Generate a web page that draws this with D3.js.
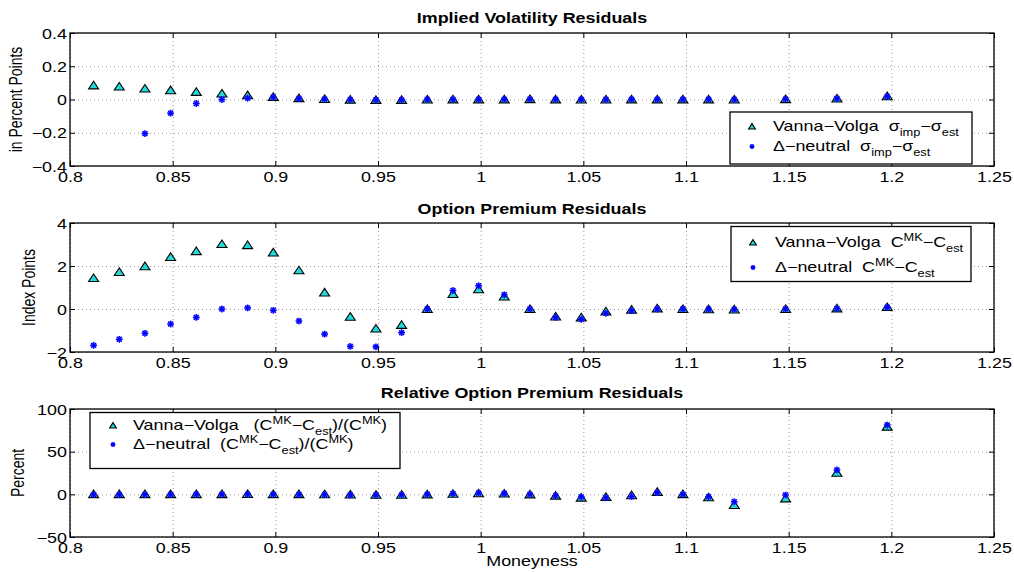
<!DOCTYPE html>
<html><head><meta charset="utf-8">
<script src="https://cdn.jsdelivr.net/npm/d3@7"></script>
<style>body{margin:0;background:#fff} text{font-family:"Liberation Sans",Arial,Helvetica,sans-serif;fill:#000}</style>
</head><body><svg id="c" width="1014" height="572"></svg>
<script>
// ---------- data ----------
const moneyness = [0.8115, 0.824, 0.8365, 0.849, 0.8615, 0.874, 0.8865, 0.899, 0.9115, 0.924,
  0.9365, 0.949, 0.9615, 0.974, 0.9865, 0.999, 1.0115, 1.024, 1.0365, 1.049,
  1.061, 1.0735, 1.086, 1.0985, 1.111, 1.1235, 1.1485, 1.1735, 1.198];

const ivVannaVolga = [0.085, 0.078, 0.066, 0.056, 0.046, 0.036, 0.026, 0.016, 0.008, 0.003,
  -0.001, -0.002, -0.002, 0.0, 0.001, 0.001, 0.001, 0.002, 0.001, 0.0,
  0.0, 0.001, 0.001, 0.001, 0.001, 0.0, 0.002, 0.006, 0.02];
const ivDeltaNeutral = [null, null, -0.205, -0.082, -0.024, 0.0, 0.008, 0.014, 0.006, 0.002,
  -0.001, -0.002, -0.002, 0.0, 0.001, 0.001, 0.001, 0.002, 0.001, 0.0,
  0.0, 0.001, 0.001, 0.001, 0.001, 0.0, 0.002, 0.006, 0.018];

const premVannaVolga = [1.44, 1.72, 1.99, 2.42, 2.69, 3.02, 2.97, 2.63, 1.80, 0.77,
  -0.36, -0.91, -0.74, 0.0, 0.70, 0.92, 0.58, 0.0, -0.35, -0.39,
  -0.11, -0.03, 0.03, 0.0, -0.01, -0.02, 0.0, 0.03, 0.09];
const premDeltaNeutral = [-1.69, -1.41, -1.13, -0.70, -0.39, 0.0, 0.05, -0.06, -0.56, -1.17,
  -1.74, -1.76, -1.10, 0.0, 0.86, 1.08, 0.66, 0.0, -0.40, -0.48,
  -0.20, -0.08, 0.0, 0.0, -0.01, -0.02, 0.0, 0.02, 0.08];

const relVannaVolga = [0.3, 0.3, 0.2, 0.2, 0.3, 0.3, 0.4, 0.3, 0.2, 0.1,
  -0.2, -0.5, -0.5, 0.0, 0.6, 1.2, 0.9, 0.0, -1.5, -3.8,
  -3.0, -1.0, 2.8, 0.2, -3.5, -12.5, -4.7, 25.3, 79.3];
const relDeltaNeutral = [-0.3, -0.3, -0.3, -0.2, -0.1, 0.0, 0.0, 0.0, -0.2, -0.4,
  -0.8, -0.9, -0.6, 0.0, 0.8, 1.5, 1.0, 0.0, -1.6, -3.0,
  -4.0, -2.5, 2.0, 0.0, -2.8, -8.7, -0.8, 28.5, 81.2];

const xTicks = [0.8, 0.85, 0.9, 0.95, 1, 1.05, 1.1, 1.15, 1.2, 1.25];
const xTickLabels = ["0.8", "0.85", "0.9", "0.95", "1", "1.05", "1.1", "1.15", "1.2", "1.25"];
const ivTicks = [-0.4, -0.2, 0, 0.2, 0.4];
const ivTickLabels = ["\u22120.4", "\u22120.2", "0", "0.2", "0.4"];
const premTicks = [-2, 0, 2, 4];
const premTickLabels = ["\u22122", "0", "2", "4"];
const relTicks = [-50, 0, 50, 100];
const relTickLabels = ["\u221250", "0", "50", "100"];

const titles = ["Implied Volatility Residuals", "Option Premium Residuals", "Relative Option Premium Residuals"];
const yLabels = ["in Percent Points", "Index Points", "Percent"];
const xLabel = "Moneyness";

// legend rows: segments [text, "sub"|"sup"|null]
const legend1 = [
  [["Vanna\u2212Volga  \u03C3"], ["imp", "sub"], ["\u2212\u03C3"], ["est", "sub"]],
  [["\u0394\u2212neutral  \u03C3"], ["imp", "sub"], ["\u2212\u03C3"], ["est", "sub"]]
];
const legend2 = [
  [["Vanna\u2212Volga  C"], ["MK", "sup"], ["\u2212C"], ["est", "sub"]],
  [["\u0394\u2212neutral  C"], ["MK", "sup"], ["\u2212C"], ["est", "sub"]]
];
const legend3 = [
  [["Vanna\u2212Volga   (C"], ["MK", "sup"], ["\u2212C"], ["est", "sub"], [")/(C"], ["MK", "sup"], [")"]],
  [["\u0394\u2212neutral  (C"], ["MK", "sup"], ["\u2212C"], ["est", "sub"], [")/(C"], ["MK", "sup"], [")"]]
];

// ---------- drawing ----------
const SX = 1.28; // horizontal text stretch of the original
const FS = 14;
const W = 1014, H = 572;
const left = 70, right = 994;
const svg = d3.select("#c");
svg.append("rect").attr("width", W).attr("height", H).attr("fill", "#fff");

const x = d3.scaleLinear().domain([0.8, 1.25]).range([left, right]);
const cyan = "#22dada";
const blue = "#0000ff";

function triPath(hw, ht, hb) { return `M0,${-ht}L${hw},${hb}L${-hw},${hb}Z`; }

function drawTri(g, cx, cy, small) {
  const p = small ? triPath(3.4, 2.9, 2.5) : triPath(5, 4.1, 3.5);
  g.append("path").attr("d", p).attr("transform", `translate(${cx},${cy})`)
    .attr("fill", cyan).attr("stroke", "#000").attr("stroke-width", 1.1).attr("stroke-linejoin", "miter");
}
function drawStar(g, cx, cy, small) {
  const r = small ? 2.4 : 3.4;
  const d = r * 0.72;
  const s = g.append("g").attr("transform", `translate(${cx},${cy})`);
  s.append("circle").attr("r", r * 0.9).attr("fill", "#6a6aff").attr("opacity", 0.6);
  const segs = [[-r, 0, r, 0], [0, -r, 0, r], [-d, -d, d, d], [-d, d, d, -d]];
  segs.forEach(q => s.append("line").attr("x1", q[0]).attr("y1", q[1]).attr("x2", q[2]).attr("y2", q[3])
    .attr("stroke", blue).attr("stroke-width", 1.4));
}

function richText(g, tx, ty, segs) {
  const t = g.append("text").attr("transform", `translate(${tx},${ty}) scale(${SX},1)`)
    .attr("font-size", FS).style("white-space", "pre");
  let shift = 0;
  segs.forEach(s => {
    const kind = s[1] || null;
    const target = kind === "sub" ? 5 : kind === "sup" ? -6 : 0;
    t.append("tspan").attr("dy", target - shift).attr("font-size", kind ? 10 : FS).text(s[0]);
    shift = target;
  });
  return t;
}

const panels = [
  { top: 33, bottom: 166, domain: [-0.4, 0.4], ticks: ivTicks, labels: ivTickLabels,
    vv: ivVannaVolga, dn: ivDeltaNeutral, title: titles[0], titleY: 22.7, ylab: yLabels[0], ylabX: 18,
    legend: { x: 730, y: 112, w: 242, h: 52, mx: 752, tx: 773, rows: legend1, ys: [131, 151] } },
  { top: 223, bottom: 352, domain: [-2, 4], ticks: premTicks, labels: premTickLabels,
    vv: premVannaVolga, dn: premDeltaNeutral, title: titles[1], titleY: 213.5, ylab: yLabels[1], ylabX: 31,
    legend: { x: 731, y: 226.5, w: 240, h: 55, mx: 753, tx: 775, rows: legend2, ys: [247, 272] } },
  { top: 409, bottom: 537, domain: [-50, 100], ticks: relTicks, labels: relTickLabels,
    vv: relVannaVolga, dn: relDeltaNeutral, title: titles[2], titleY: 398.3, ylab: yLabels[2], ylabX: 20,
    legend: { x: 90, y: 412.5, w: 310, h: 56, mx: 113, tx: 133, rows: legend3, ys: [430, 449] } }
];

panels.forEach(p => {
  const y = d3.scaleLinear().domain(p.domain).range([p.bottom, p.top]);
  const g = svg.append("g");
  const h = p.bottom - p.top, w = right - left;

  // grid
  const gridStyle = s => {
    s.select(".domain").remove();
    s.selectAll("line").attr("stroke", "#8c8c8c").attr("stroke-width", 0.9).attr("stroke-dasharray", "1,3");
  };
  g.append("g").attr("transform", `translate(0,${p.bottom})`)
    .call(d3.axisBottom(x).tickValues(xTicks).tickSize(-h).tickFormat("")).call(gridStyle);
  g.append("g").attr("transform", `translate(${left},0)`)
    .call(d3.axisLeft(y).tickValues(p.ticks).tickSize(-w).tickFormat("")).call(gridStyle);

  // data
  const clip = "clip" + p.top;
  svg.append("clipPath").attr("id", clip).append("rect").attr("x", left).attr("y", p.top).attr("width", w).attr("height", h);
  const dg = g.append("g").attr("clip-path", `url(#${clip})`);
  moneyness.forEach((m, i) => { if (p.vv[i] != null) drawTri(dg, x(m), y(p.vv[i]), false); });
  moneyness.forEach((m, i) => { if (p.dn[i] != null) drawStar(dg, x(m), y(p.dn[i]), false); });

  // box
  g.append("rect").attr("x", left).attr("y", p.top).attr("width", w).attr("height", h)
    .attr("fill", "none").attr("stroke", "#000").attr("stroke-width", 1.3);

  const tickStyle = s => {
    s.select(".domain").remove();
    s.selectAll("line").attr("stroke", "#000").attr("stroke-width", 1);
  };
  // bottom axis with labels
  g.append("g").attr("transform", `translate(0,${p.bottom})`)
    .call(d3.axisBottom(x).tickValues(xTicks).tickSizeInner(-5).tickSizeOuter(0)
      .tickFormat((d, i) => xTickLabels[i]))
    .call(tickStyle)
    .call(s => s.selectAll("text").attr("y", 16).attr("dy", null).attr("font-size", FS)
      .attr("font-family", null).attr("fill", "#000").attr("transform", `scale(${SX},1)`));
  // top axis ticks
  g.append("g").attr("transform", `translate(0,${p.top})`)
    .call(d3.axisTop(x).tickValues(xTicks).tickSizeInner(-5).tickSizeOuter(0).tickFormat(""))
    .call(tickStyle);
  // left axis with labels
  g.append("g").attr("transform", `translate(${left},0)`)
    .call(d3.axisLeft(y).tickValues(p.ticks).tickSizeInner(-5).tickSizeOuter(0)
      .tickFormat((d, i) => p.labels[i]))
    .call(tickStyle)
    .call(s => s.selectAll("text").attr("x", -3 / SX).attr("dy", "0.36em").attr("font-size", FS)
      .attr("font-family", null).attr("fill", "#000").attr("transform", `scale(${SX},1)`));
  // right axis ticks
  g.append("g").attr("transform", `translate(${right},0)`)
    .call(d3.axisRight(y).tickValues(p.ticks).tickSizeInner(-5).tickSizeOuter(0).tickFormat(""))
    .call(tickStyle);

  // title
  g.append("text").attr("transform", `translate(${(left + right) / 2},${p.titleY}) scale(${SX},1)`)
    .attr("text-anchor", "middle").attr("font-weight", "bold").attr("font-size", FS).text(p.title);
  // y label
  g.append("text").attr("transform", `translate(${p.ylabX + 4},${(p.top + p.bottom) / 2}) rotate(-90) scale(1,${SX})`)
    .attr("text-anchor", "middle").attr("font-size", FS).text(p.ylab);

  // legend
  const L = p.legend;
  const lg = g.append("g");
  lg.append("rect").attr("x", L.x).attr("y", L.y).attr("width", L.w).attr("height", L.h)
    .attr("fill", "#fff").attr("stroke", "#000").attr("stroke-width", 1.3);
  drawTri(lg, L.mx, L.ys[0] - 4.5, true);
  drawStar(lg, L.mx, L.ys[1] - 4.5, true);
  L.rows.forEach((r, i) => richText(lg, L.tx, L.ys[i], r));
});

// x label
svg.append("text").attr("transform", `translate(${(left + right) / 2},566) scale(${SX},1)`)
  .attr("text-anchor", "middle").attr("font-size", FS).text(xLabel);
</script>
</body></html>
